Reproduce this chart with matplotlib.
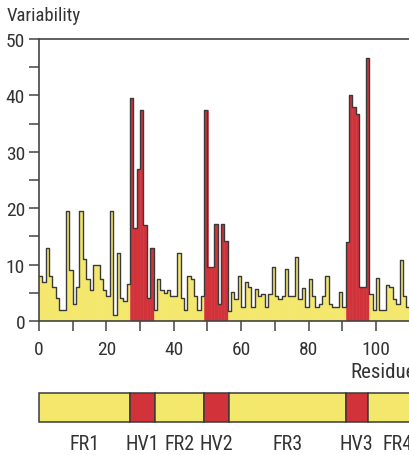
import numpy as np
import matplotlib.pyplot as plt
from matplotlib.patches import Rectangle

plt.rcParams['font.family'] = ['Roboto Condensed', 'Roboto', 'DejaVu Sans']

# variability per residue (residue i spans i..i+1)
variability = [
    8, 7, 13, 8, 6, 4, 2, 2, 19.5, 9,
    3, 6, 19.5, 11, 7.5, 5.5, 10, 10, 7.5, 5.5,
    4.5, 19.5, 1, 12, 4, 3.5, 6.5, 39.5, 16.5, 27,
    37.5, 17, 4, 13, 2, 7.5, 5.5, 5, 5.5, 4.5,
    4.5, 12, 4, 2, 8, 7.5, 4.5, 2, 4.5, 37.5,
    9.5, 9.5, 17.2, 3, 17.2, 14.2, 1.8, 5.1, 3.9, 8,
    2.4, 7, 6, 2.4, 5.7, 4.5, 4.8, 2.4, 4.8, 9.5,
    4.5, 3.9, 4.5, 9.2, 4.5, 4.5, 11.3, 3.9, 5.8, 2.4,
    7.5, 4.5, 2.4, 3, 4.5, 7.9, 3, 2.4, 2.4, 5.2,
    2.4, 14, 40, 38, 36.7, 6, 6, 46.7, 4.8, 2,
    7.6, 2, 2, 6.4, 6, 3.9, 3, 10.8, 4.5, 2.4,
    2.4,
]

# hypervariable residue ranges [start, end)
hv_ranges = [(27, 34), (49, 56), (91, 98)]

# domain map under the plot
region_names = ["FR1", "HV1", "FR2", "HV2", "FR3", "HV3", "FR4"]
region_edges = [0, 27, 34.5, 49, 56.5, 91, 97.5, 115.5]

yellow = '#F4E86C'
red = '#D2323A'
dark = '#3a3a3a'
textc = '#333333'

vals = np.array(variability)
res = np.arange(len(vals))
is_hv = np.zeros(len(vals), dtype=bool)
for a, b in hv_ranges:
    is_hv[(res >= a) & (res < b)] = True
colors = [red if h else yellow for h in is_hv]

W, H = 410, 456
fig = plt.figure(figsize=(W / 100, H / 100), dpi=100)

x_max = 115.5
px_per_res = 3.37
ax_left, ax_right = 39, 39 + px_per_res * x_max
ax_top, ax_bot = 40, 322
ax = fig.add_axes([ax_left / W, 1 - ax_bot / H, (ax_right - ax_left) / W, (ax_bot - ax_top) / H])

ax.bar(res, vals, width=1, align='edge', color=colors, edgecolor=colors, linewidth=0.4)
ax.step(np.arange(len(vals) + 1), np.r_[vals, vals[-1]], where='post', color=dark, lw=1.0)

ax.set_xlim(0, x_max)
ax.set_ylim(0, 50)
ax.set_xticks(np.arange(0, 101, 20))
ax.set_xticks(np.arange(10, 111, 20), minor=True)
ax.set_yticks(np.arange(0, 51, 10))
ax.set_yticks(np.arange(5, 50, 10), minor=True)
ax.tick_params(which='both', direction='out', length=7, width=1.1, color='#444444',
               labelsize=14, labelcolor=textc)
ax.tick_params(axis='x', which='both', pad=7)
ax.tick_params(axis='y', which='both', pad=3)
for s in ax.spines.values():
    s.set_color('#444444')
    s.set_linewidth(1.2)

fig.text(7 / W, 1 - 16 / H, "Variability", fontsize=13.5, color=textc, va='center', ha='left')
fig.text(350 / W, 1 - 373 / H, "Residue", fontsize=15, color=textc, va='center', ha='left')

# domain strip
st_top, st_bot = 394, 423
ax2 = fig.add_axes([ax_left / W, 1 - st_bot / H, (ax_right - ax_left) / W, (st_bot - st_top) / H])
ax2.set_xlim(0, x_max)
ax2.set_ylim(0, 1)
ax2.axis('off')
for i, name in enumerate(region_names):
    x0, x1 = region_edges[i], region_edges[i + 1]
    c = red if name.startswith('HV') else yellow
    ax2.add_patch(Rectangle((x0, 0), x1 - x0, 1, facecolor=c, edgecolor=dark, lw=1.1, clip_on=False))
    ax2.text((x0 + x1) / 2, -0.75, name, ha='center', va='center', fontsize=14.5, color=textc,
             clip_on=False)

fig.savefig('out.png', dpi=100)
